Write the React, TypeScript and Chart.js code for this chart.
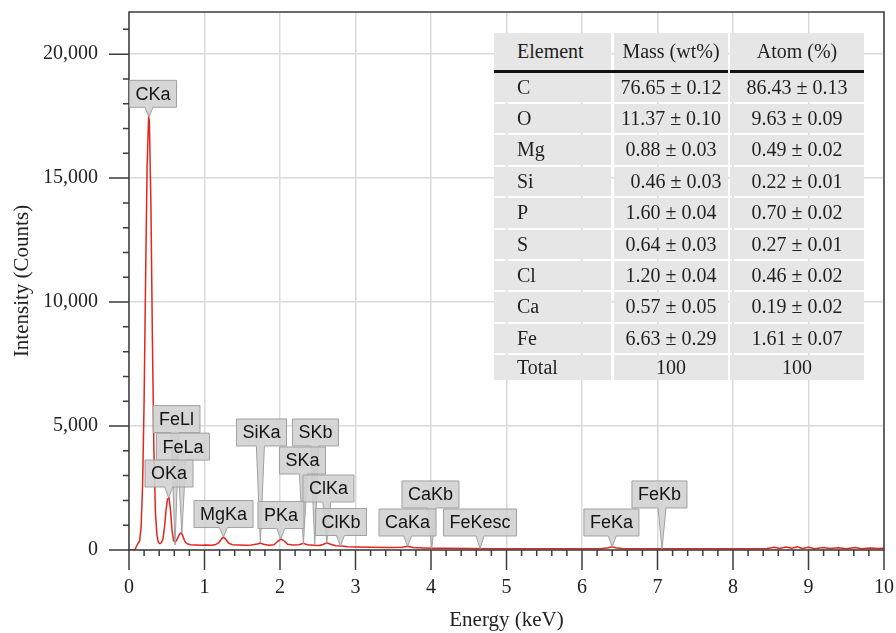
import React, { useEffect, useRef } from 'react';
import { Chart, registerables } from 'chart.js';

Chart.register(...registerables);

// ---- Spectrum data ----
const energyKeV = [
  0.0, 0.05, 0.08, 0.1, 0.12, 0.14, 0.16, 0.18, 0.2, 0.22, 0.24, 0.26, 0.27, 0.29, 0.31, 0.33, 0.35, 0.37, 0.39,
  0.41, 0.43, 0.45, 0.47, 0.49, 0.51, 0.53, 0.55, 0.57, 0.59, 0.61, 0.63, 0.65, 0.67, 0.69, 0.71, 0.73, 0.75,
  0.78, 0.82, 0.88, 0.95, 1.02, 1.08, 1.14, 1.19, 1.23, 1.25, 1.28, 1.32, 1.37, 1.45, 1.55, 1.62, 1.7, 1.74,
  1.78, 1.85, 1.92, 1.97, 2.01, 2.05, 2.1, 2.17, 2.25, 2.31, 2.36, 2.45, 2.52, 2.57, 2.62, 2.67, 2.74, 2.82,
  2.9, 3.0, 3.2, 3.45, 3.62, 3.69, 3.76, 3.9, 4.01, 4.2, 4.5, 4.8, 5.1, 5.4, 5.7, 6.0, 6.25, 6.35, 6.4, 6.45,
  6.55, 6.8, 7.06, 7.4, 7.8, 8.2, 8.45, 8.55, 8.62, 8.7, 8.78, 8.85, 8.92, 9.0, 9.08, 9.2, 9.28, 9.4, 9.5,
  9.62, 9.7, 9.82, 9.92, 10.0,
];
const counts = [
  0, 0, 20, 150, 280, 350, 900, 2600, 6000, 11000, 15500, 17460, 17300, 14000, 8500, 4000, 1500, 600, 300,
  260, 300, 450, 900, 1600, 2050, 2100, 1600, 800, 380, 320, 380, 520, 640, 690, 600, 420, 300,
  240, 210, 200, 190, 200, 190, 210, 300, 460, 520, 440, 280, 210, 200, 190, 200, 240, 280,
  230, 190, 210, 350, 440, 380, 230, 200, 210, 270, 210, 190, 180, 220, 290, 230, 170, 160,
  130, 120, 110, 100, 110, 150, 100, 80, 70, 70, 60, 55, 55, 50, 50, 50, 55, 90, 130, 90,
  55, 50, 55, 50, 50, 50, 60, 110, 60, 120, 70, 130, 60, 110, 50, 100, 60, 90, 50,
  100, 55, 80, 60, 70,
];

// ---- Axes ----
const yMin = 0;
const yMax = 21700;
const yTickValues = [0, 5000, 10000, 15000, 20000];
const yMinorStep = 1000;
const xMin = 0;
const xMax = 10;
const xTickValues = [0, 1, 2, 3, 4, 5, 6, 7, 8, 9, 10];
const xMinorStep = 0.2;
const xTitle = 'Energy (keV)';
const yTitle = 'Intensity (Counts)';

// ---- Peak callouts ----
const calloutLabels = ['CKa', 'OKa', 'FeLl', 'FeLa', 'MgKa', 'SiKa', 'PKa', 'SKa', 'SKb', 'ClKa', 'ClKb', 'CaKa', 'CaKb', 'FeKesc', 'FeKa', 'FeKb'];
const calloutEnergy = [0.265, 0.525, 0.61, 0.7, 1.25, 1.74, 2.01, 2.31, 2.46, 2.62, 2.8, 3.69, 4.01, 4.65, 6.4, 7.06];
const calloutTipCounts = [17460, 2100, 200, 690, 520, 280, 440, 240, 200, 290, 160, 150, 60, 55, 130, 55];
// layout: box centre in (keV, counts)
const calloutBoxPos = [
  [0.318, 18400], [0.53, 3085], [0.629, 5280], [0.715, 4170], [1.252, 1450], [1.755, 4740], [2.013, 1410],
  [2.298, 3610], [2.47, 4740], [2.642, 2480], [2.808, 1130], [3.689, 1110], [3.993, 2240], [4.649, 1110],
  [6.39, 1110], [7.026, 2240],
];

// ---- Composition table ----
const tableHeader = ['Element', 'Mass (wt%)', 'Atom (%)'];
const tableElements = ['C', 'O', 'Mg', 'Si', 'P', 'S', 'Cl', 'Ca', 'Fe', 'Total'];
const tableMass = ['76.65 ± 0.12', '11.37 ± 0.10', '0.88 ± 0.03', '\u00a0\u00a00.46 ± 0.03', '1.60 ± 0.04', '0.64 ± 0.03', '1.20 ± 0.04', '0.57 ± 0.05', '6.63 ± 0.29', '100'];
const tableAtom = ['86.43 ± 0.13', '9.63 ± 0.09', '0.49 ± 0.02', '0.22 ± 0.01', '0.70 ± 0.02', '0.27 ± 0.01', '0.46 ± 0.02', '0.19 ± 0.02', '1.61 ± 0.07', '100'];

const SERIF = "'Liberation Serif', 'Times New Roman', serif";
const SANS = "'Liberation Sans', Arial, sans-serif";

const decorPlugin = {
  id: 'decor',
  afterDatasetsDraw(chart: any) {
    const { ctx, chartArea: a, scales } = chart;
    const x = scales.x;
    const y = scales.y;
    ctx.save();
    // frame
    ctx.strokeStyle = '#3c3c3c';
    ctx.lineWidth = 1.5;
    ctx.strokeRect(a.left, a.top, a.right - a.left, a.bottom - a.top);
    // ticks
    ctx.beginPath();
    for (let v = yMin; v <= yMax + 0.001; v += yMinorStep) {
      const py = y.getPixelForValue(v);
      const major = yTickValues.includes(v);
      ctx.moveTo(a.left - (major ? 20 : 6), py);
      ctx.lineTo(a.left, py);
    }
    const nMinor = Math.round((xMax - xMin) / xMinorStep);
    for (let i = 0; i <= nMinor; i++) {
      const v = xMin + i * xMinorStep;
      const px = x.getPixelForValue(v);
      const major = xTickValues.some((t) => Math.abs(t - v) < 1e-6);
      ctx.moveTo(px, a.bottom);
      ctx.lineTo(px, a.bottom + (major ? 20 : 6));
    }
    ctx.stroke();

    // callouts: upper boxes first so lower boxes sit on top of their pointers
    ctx.font = `18px ${SANS}`;
    ctx.textAlign = 'center';
    ctx.textBaseline = 'middle';
    const order = calloutLabels.map((_, i) => i).sort((p, q) => calloutBoxPos[q][1] - calloutBoxPos[p][1]);
    order.forEach((i) => {
      const label = calloutLabels[i];
      const tipX = x.getPixelForValue(calloutEnergy[i]);
      const tipY = y.getPixelForValue(calloutTipCounts[i]);
      const cx = x.getPixelForValue(calloutBoxPos[i][0]);
      const cy = y.getPixelForValue(calloutBoxPos[i][1]);
      const w = ctx.measureText(label).width + 12;
      const h = 27;
      const l = cx - w / 2;
      const r = cx + w / 2;
      const t = cy - h / 2;
      const b = cy + h / 2;
      const bx = Math.min(Math.max(tipX, l + 5), r - 5);
      ctx.beginPath();
      ctx.moveTo(l, t);
      ctx.lineTo(r, t);
      ctx.lineTo(r, b);
      ctx.lineTo(bx + 4, b);
      ctx.lineTo(tipX, tipY);
      ctx.lineTo(bx - 4, b);
      ctx.lineTo(l, b);
      ctx.closePath();
      ctx.fillStyle = 'rgba(208,208,208,0.88)';
      ctx.fill();
      ctx.strokeStyle = '#a0a0a0';
      ctx.lineWidth = 1;
      ctx.stroke();
      ctx.fillStyle = '#141414';
      ctx.fillText(label, cx, cy + 1);
    });
    ctx.restore();
  },
};

function CompositionTable() {
  const colLeft = [494, 614, 730];
  const colWidth = [117, 114, 134];
  const cellBg = '#e6e6e6';
  const cells: any[] = [];
  const textStyle = (col: number): React.CSSProperties => ({
    position: 'absolute',
    fontFamily: SERIF,
    fontSize: 20,
    color: '#231f20',
    whiteSpace: 'pre',
    textAlign: col === 0 ? 'left' : 'center',
    paddingLeft: col === 0 ? 23 : 0,
    boxSizing: 'border-box',
    background: cellBg,
  });
  tableHeader.forEach((txt, c) => {
    cells.push(
      <div key={'h' + c} style={{ ...textStyle(c), left: colLeft[c], top: 33, width: colWidth[c], height: 37, lineHeight: '37px' }}>
        {txt}
      </div>
    );
  });
  cells.push(<div key="line1" style={{ position: 'absolute', left: 494, top: 70, width: 234, height: 2.5, background: '#111' }} />);
  cells.push(<div key="line2" style={{ position: 'absolute', left: 730, top: 70, width: 134, height: 2.5, background: '#111' }} />);
  tableElements.forEach((el, r) => {
    const top = 72.5 + r * 31.4;
    const h = r === tableElements.length - 1 ? 25 : 29.5;
    const vals = [el, tableMass[r], tableAtom[r]];
    vals.forEach((txt, c) => {
      cells.push(
        <div key={r + '-' + c} style={{ ...textStyle(c), left: colLeft[c], top, width: colWidth[c], height: h, lineHeight: h + 'px' }}>
          {txt}
        </div>
      );
    });
  });
  return <>{cells}</>;
}

export default function App() {
  const canvasRef = useRef<HTMLCanvasElement | null>(null);

  useEffect(() => {
    document.body.style.margin = '0';
    const canvas = canvasRef.current;
    if (!canvas) return;
    const chart = new Chart(canvas, {
      type: 'line',
      data: {
        datasets: [
          {
            data: energyKeV.map((e, i) => ({ x: e, y: counts[i] })),
            borderColor: '#e3261f',
            borderWidth: 1.5,
            pointRadius: 0,
            tension: 0,
            fill: false,
          },
        ],
      },
      options: {
        responsive: false,
        animation: false,
        events: [],
        layout: { padding: { top: 12, right: 12, left: 0, bottom: 0 } },
        plugins: { legend: { display: false }, tooltip: { enabled: false } },
        scales: {
          x: {
            type: 'linear',
            min: xMin,
            max: xMax,
            afterBuildTicks: (scale: any) => {
              scale.ticks = xTickValues.map((v) => ({ value: v }));
            },
            afterFit: (scale: any) => {
              scale.height = 83;
            },
            grid: { color: '#dadada', lineWidth: 1.5, drawTicks: true, tickLength: 26, tickColor: 'rgba(0,0,0,0)' },
            border: { display: false },
            ticks: {
              padding: 0,
              maxRotation: 0,
              autoSkip: false,
              color: '#222',
              font: { family: SERIF, size: 20 },
              callback: (v: any) => String(v),
            },
            title: {
              display: true,
              text: xTitle,
              color: '#222',
              font: { family: SERIF, size: 21 },
              padding: { top: 0, bottom: 0 },
            },
          },
          y: {
            type: 'linear',
            min: yMin,
            max: yMax,
            afterBuildTicks: (scale: any) => {
              scale.ticks = yTickValues.map((v) => ({ value: v }));
            },
            afterFit: (scale: any) => {
              scale.width = 129;
            },
            grid: { color: '#dadada', lineWidth: 1.5, drawTicks: true, tickLength: 31, tickColor: 'rgba(0,0,0,0)' },
            border: { display: false },
            ticks: {
              padding: 0,
              color: '#222',
              font: { family: SERIF, size: 20 },
              callback: (v: any) => Number(v).toLocaleString('en-US'),
            },
            title: {
              display: true,
              text: yTitle,
              color: '#222',
              font: { family: SERIF, size: 21 },
              padding: { top: 10, bottom: 0 },
            },
          },
        },
      },
      plugins: [decorPlugin],
    } as any);
    return () => chart.destroy();
  }, []);

  return (
    <div style={{ position: 'relative', width: 896, height: 633, background: '#fff' }}>
      <canvas ref={canvasRef} width={896} height={633} style={{ display: 'block' }} />
      <CompositionTable />
    </div>
  );
}
